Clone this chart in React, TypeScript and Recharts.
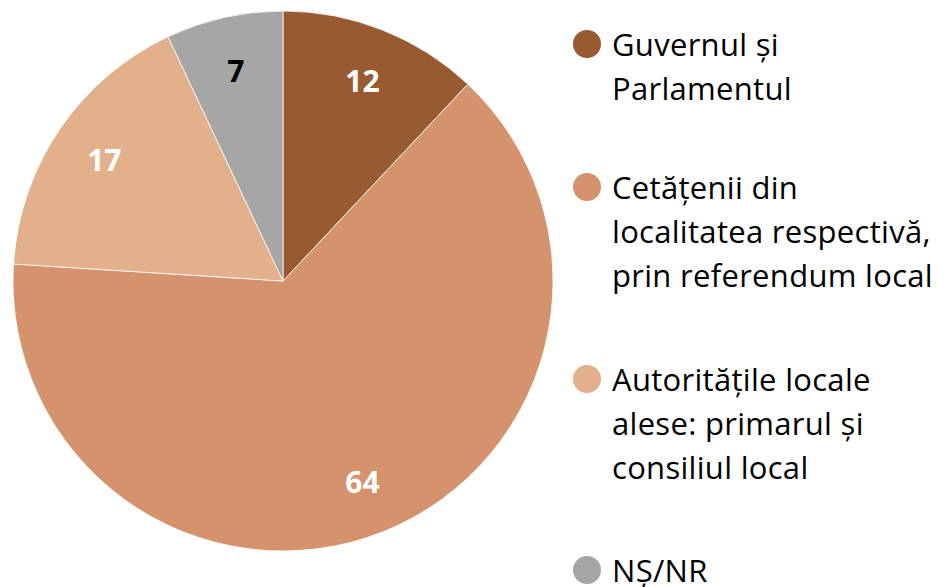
import { PieChart, Pie, Cell, Legend } from "recharts"

const categories = [
  "Guvernul și\nParlamentul",
  "Cetățenii din\nlocalitatea respectivă,\nprin referendum local",
  "Autoritățile locale\nalese: primarul și\nconsiliul local",
  "NȘ/NR",
]
const values = [12, 64, 17, 7]
const colors = ["#985B31", "#D4936C", "#E2B08B", "#A6A6A6"]
const labelColors = ["#FFFFFF", "#FFFFFF", "#FFFFFF", "#000000"]

const data = categories.map((name, i) => ({ name, value: values[i] }))

const FONT = "'Open Sans', sans-serif"
const legendGaps = [55, 60, 59, 0]

const RADIAN = Math.PI / 180

function renderLabel(props: any) {
  const { cx, cy, midAngle, outerRadius, value, index } = props
  const r = outerRadius * 0.8
  const x = cx + r * Math.cos(-midAngle * RADIAN)
  const y = cy + r * Math.sin(-midAngle * RADIAN)
  return (
    <text
      x={x}
      y={y}
      fill={labelColors[index]}
      textAnchor="middle"
      dominantBaseline="central"
      fontFamily={FONT}
      fontWeight="bold"
      fontSize={30}
    >
      {value}
    </text>
  )
}

function LegendContent() {
  return (
    <div style={{ fontFamily: FONT, fontSize: 31, lineHeight: "44px", letterSpacing: 0.3, color: "#000" }}>
      {data.map((d, i) => {
        const last = i === data.length - 1
        return (
          <div
            key={d.name}
            style={{
              display: "flex",
              alignItems: "flex-start",
              marginBottom: legendGaps[i],
              lineHeight: last ? "30px" : undefined,
              paddingTop: last ? 7 : 0,
            }}
          >
            <span
              style={{
                width: 28,
                height: 28,
                borderRadius: "50%",
                background: colors[i],
                marginTop: last ? 1 : 8,
                marginRight: 11,
                flexShrink: 0,
              }}
            />
            <span style={{ whiteSpace: "pre-line" }}>{d.name}</span>
          </div>
        )
      })}
    </div>
  )
}

export default function App() {
  return (
    <div style={{ width: 946, height: 587, background: "#fff" }}>
      <style>{"html, body { margin: 0; padding: 0; overflow: hidden; }"}</style>
      <PieChart width={946} height={587} margin={{ top: 0, right: 0, bottom: 0, left: 0 }}>
        <Pie
          data={data}
          dataKey="value"
          nameKey="name"
          cx={283}
          cy={281}
          outerRadius={270}
          startAngle={90}
          endAngle={-270}
          stroke="#ffffff"
          strokeWidth={0.75}
          label={renderLabel}
          labelLine={false}
          isAnimationActive={false}
        >
          {data.map((d, i) => (
            <Cell key={d.name} fill={colors[i]} />
          ))}
        </Pie>
        <Legend
          content={<LegendContent />}
          wrapperStyle={{ position: "absolute", left: 573, top: 22, width: 373 }}
        />
      </PieChart>
    </div>
  )
}
